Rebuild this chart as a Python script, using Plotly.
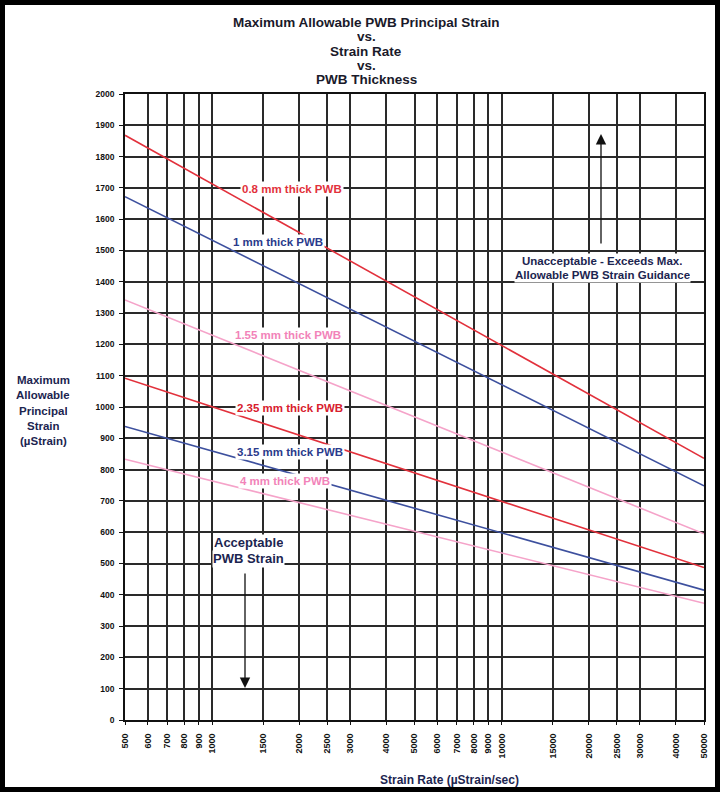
import numpy as np
import plotly.graph_objects as go

# strain rate (uStrain/sec) at the left and right edges of the chart
strain_rate = [500, 50000]

# maximum allowable principal strain (uStrain) per PWB thickness
strain_08mm = [1868, 836]
strain_1mm = [1672, 748]
strain_155mm = [1342, 595]
strain_235mm = [1092, 487]
strain_315mm = [938, 415]
strain_4mm = [833, 373]

x_ticks = [500, 600, 700, 800, 900, 1000, 1500, 2000, 2500, 3000, 4000, 5000,
           6000, 7000, 8000, 9000, 10000, 15000, 20000, 25000, 30000, 40000, 50000]
y_ticks = list(range(0, 2001, 100))

RED = "#e2313c"
BLUE = "#3d509e"
PINK = "#f5a3c9"
NAVY = "#1c2550"
FONT = "Arial, Liberation Sans, sans-serif"

# plot area in pixels (page is 720 x 792)
L, R, T, B = 125, 704, 94, 720
W, H = 720, 792


def px(x, y):
    # pixel position -> paper coordinates
    return (x - L) / (R - L), (B - y) / (B - T)


def text_block(center, lines, size, color, spacing, bg=None, pad=0):
    # one annotation per line so the line spacing can be set freely
    cx, cy = center
    top = cy - spacing * (len(lines) - 1) / 2
    out = []
    for i, line in enumerate(lines):
        x, y = px(cx, top + i * spacing)
        d = dict(x=x, y=y, xref="paper", yref="paper", text=line,
                 xanchor="center", yanchor="middle", showarrow=False,
                 font=dict(family=FONT, size=size, color=color, weight="bold"),
                 borderpad=pad)
        if len(lines) > 1:
            d["height"] = spacing - 2 * pad
        if bg:
            d["bgcolor"] = bg
        out.append(d)
    return out


series = [
    (strain_08mm, RED, "0.8 mm thick PWB", RED, (292, 189)),
    (strain_1mm, BLUE, "1 mm thick PWB", "#2b3b8c", (278, 242)),
    (strain_155mm, PINK, "1.55 mm thick PWB", "#f283b9", (288, 335)),
    (strain_235mm, RED, "2.35 mm thick PWB", "#d8202e", (290, 408)),
    (strain_315mm, BLUE, "3.15 mm thick PWB", "#2b3b8c", (290, 452)),
    (strain_4mm, PINK, "4 mm thick PWB", "#f283b9", (285, 481)),
]

fig = go.Figure()
annotations = []
for vals, color, label, tcolor, pos in series:
    fig.add_trace(go.Scatter(
        x=strain_rate, y=vals, mode="lines",
        line=dict(color=color, width=1.6),
        hoverinfo="skip", showlegend=False
    ))
    annotations += text_block(pos, [label], 11.5, tcolor, 0, bg="white", pad=1)

# arrows
for (tip, tail) in [((601, 134), (601, 245)), ((245, 688), (245, 572))]:
    tx, ty = px(*tip)
    hx, hy = px(*tail)
    annotations.append(dict(
        x=tx, y=ty, ax=hx, ay=hy, xref="x domain", yref="y domain",
        axref="x domain", ayref="y domain", text="", showarrow=True,
        arrowhead=2, arrowsize=1.6, arrowwidth=1.3, arrowcolor="#111"
    ))

# region notes
annotations += text_block((602, 268),
                          ["Unacceptable - Exceeds Max.", "Allowable PWB Strain Guidance"],
                          11.5, NAVY, 14, bg="white")
annotations += text_block((248, 551), ["Acceptable", "PWB Strain"],
                          13, NAVY, 15.5, bg="white")

# y axis title (horizontal, left of the ticks)
annotations += text_block((43, 410),
                          ["Maximum", "Allowable", "Principal", "Strain", "(µStrain)"],
                          11.5, NAVY, 15.3)

# x axis title
annotations += text_block((449, 780), ["Strain Rate (µStrain/sec)"], 12, NAVY, 0)

# chart title
annotations += text_block((366, 50.5),
                          ["Maximum Allowable PWB Principal Strain", "vs.",
                           "Strain Rate", "vs.", "PWB Thickness"],
                          13.5, "#1a1a2a", 14.3)

# black frame around the picture
fx0, fy0 = px(2.5, 789.5)
fx1, fy1 = px(717.5, 2.5)
shapes = [dict(type="rect", xref="paper", yref="paper",
               x0=fx0, y0=fy0, x1=fx1, y1=fy1,
               line=dict(color="black", width=5), layer="above")]

fig.update_layout(
    width=W, height=H,
    margin=dict(l=L, r=W - R, t=T, b=H - B),
    paper_bgcolor="white", plot_bgcolor="white",
    annotations=annotations,
    shapes=shapes,
    showlegend=False
)

fig.update_xaxes(
    type="log", range=[np.log10(500), np.log10(50000)],
    tickvals=x_ticks, ticktext=[str(v) for v in x_ticks], tickangle=-90,
    tickfont=dict(family=FONT, size=9, color="#111", weight="bold"),
    showgrid=True, gridcolor="#2a2a2a", gridwidth=1.6,
    showline=True, linecolor="#111", linewidth=1.6, mirror=True,
    ticks="outside", ticklen=3, tickcolor="#111", tickwidth=1.4,
    ticklabelstandoff=5, zeroline=False
)
fig.update_yaxes(
    range=[0, 2000], tickvals=y_ticks,
    tickfont=dict(family=FONT, size=8.5, color="#111", weight="bold"),
    showgrid=True, gridcolor="#2a2a2a", gridwidth=1.6,
    showline=True, linecolor="#111", linewidth=1.6, mirror=True,
    ticks="outside", ticklen=4, tickcolor="#111", tickwidth=1.4,
    ticklabelstandoff=3, zeroline=False
)

fig.write_html("out.html", config={"displayModeBar": False},
               post_script="document.body.style.margin='0';")
